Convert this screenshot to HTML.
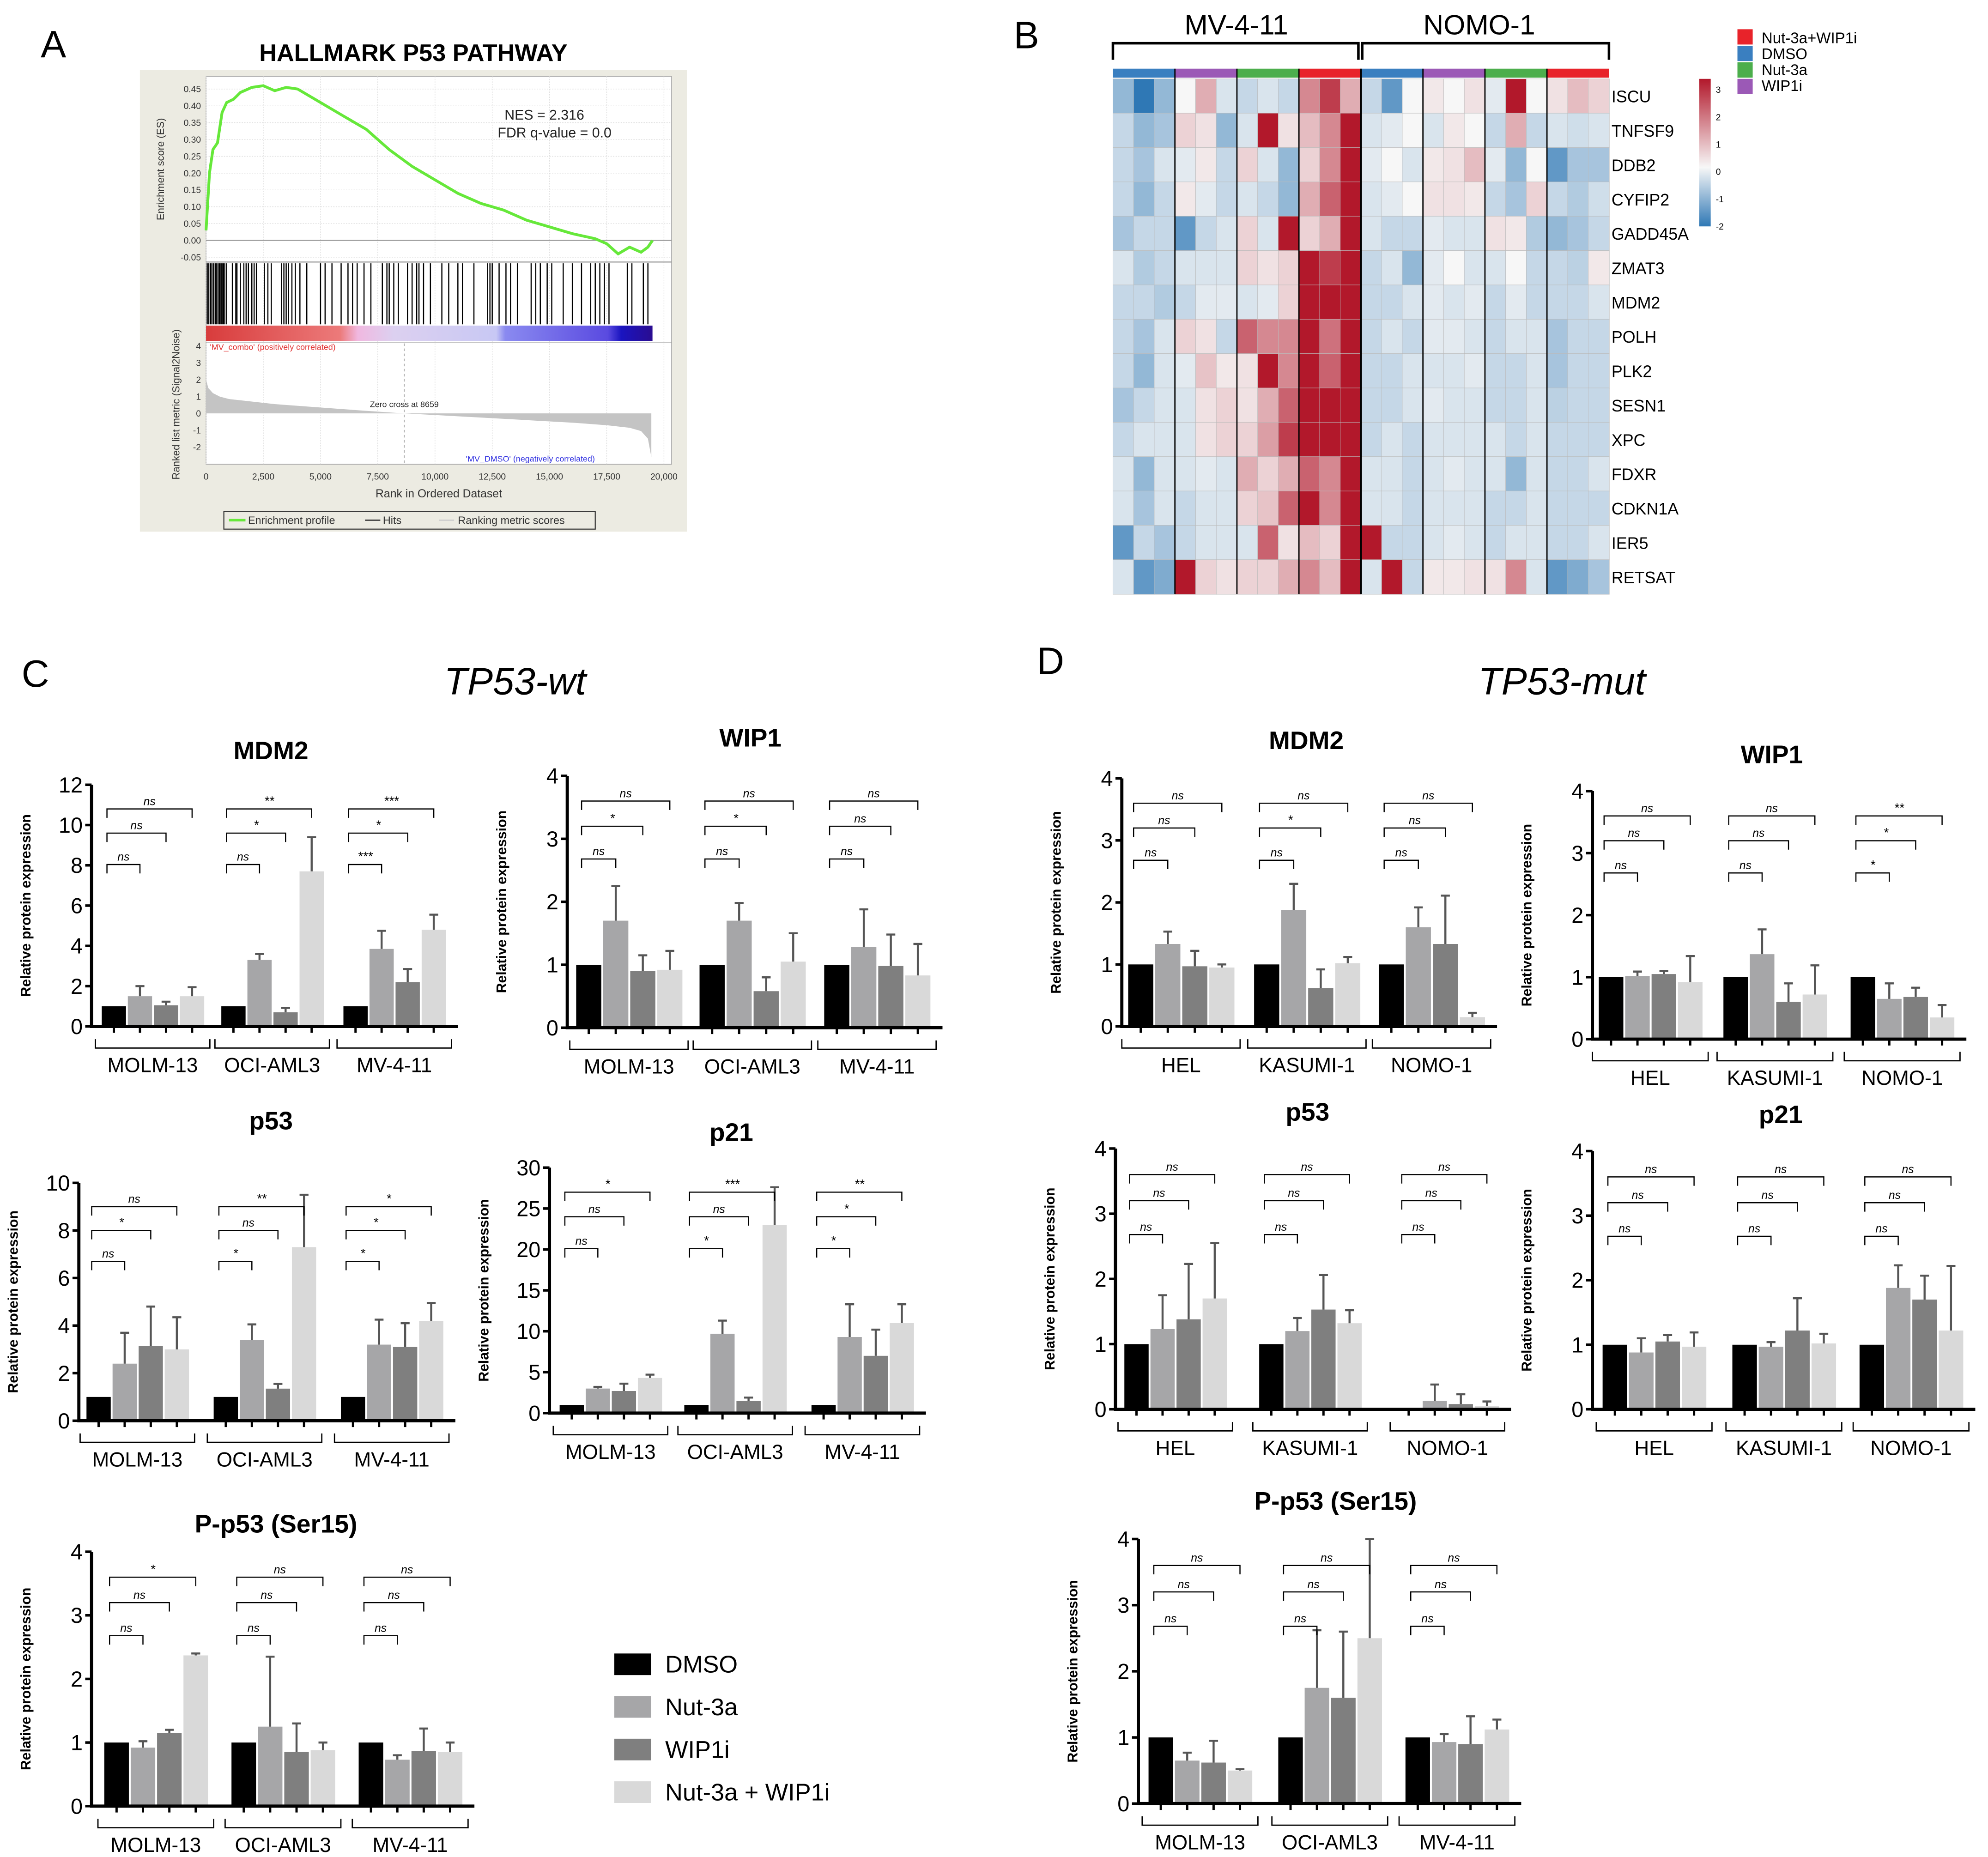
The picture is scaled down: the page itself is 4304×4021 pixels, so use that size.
<!DOCTYPE html>
<html><head><meta charset="utf-8"><style>
html,body{margin:0;padding:0;background:#fff;}
svg{display:block;}
text{font-family:"Liberation Sans",Arial,sans-serif;}
</style></head><body>
<svg id="fig" xmlns="http://www.w3.org/2000/svg" width="4304" height="4021" viewBox="0 0 1563 1460" preserveAspectRatio="none">
<rect width="1563" height="1460" fill="#fff"/>
</svg>
<script>
// ---------- GSEA data ----------
const esRanks=[0,150,300,500,700,900,1200,1500,2000,2500,3000,3500,4000,5000,6000,7000,8000,9000,10000,11000,12000,13000,14000,15000,16000,17000,17500,18000,18500,19000,19300,19500];
const esValues=[0.03,0.2,0.27,0.29,0.38,0.41,0.42,0.44,0.455,0.46,0.445,0.455,0.45,0.41,0.37,0.33,0.27,0.22,0.18,0.14,0.11,0.09,0.06,0.04,0.02,0.005,-0.01,-0.04,-0.02,-0.035,-0.02,0.0];
const hitRanks=[50,120,200,260,330,400,450,520,580,650,700,760,820,900,1150,1300,1350,1500,1650,1750,1850,2000,2100,2200,2550,2700,2850,3300,3400,3500,3600,3750,3900,4100,4400,5000,5200,5500,5900,6200,6400,6600,6900,7200,7700,7900,8000,8200,8400,8800,9000,9200,9300,9500,9800,10300,10600,11000,11200,11700,12300,12400,12500,12800,13100,13300,13600,14200,14400,14600,14900,15100,15600,16000,16400,16800,17000,17200,17400,17600,18400,18600,19100,19300];
const metricRanks=[0,100,300,600,1000,2000,3000,5000,7000,8659,10000,12000,14000,16000,17500,18500,19000,19300,19450];
const metricValues=[2.0,1.5,1.2,1.0,0.85,0.7,0.55,0.35,0.15,0,-0.1,-0.25,-0.4,-0.55,-0.7,-0.85,-1.05,-1.5,-2.6];
const rankTicks=[0,2500,5000,7500,10000,12500,15000,17500,20000];
const rankTickLabels=["0","2,500","5,000","7,500","10,000","12,500","15,000","17,500","20,000"];
const esTicks=[0.45,0.40,0.35,0.30,0.25,0.20,0.15,0.10,0.05,0.00,-0.05];
const metricTicks=[4,3,2,1,0,-1,-2];

// ---------- heatmap data ----------
const genes=["ISCU","TNFSF9","DDB2","CYFIP2","GADD45A","ZMAT3","MDM2","POLH","PLK2","SESN1","XPC","FDXR","CDKN1A","IER5","RETSAT"];
const sampleGroups=["DMSO","WIP1i","Nut-3a","Nut-3a+WIP1i","DMSO","WIP1i","Nut-3a","Nut-3a+WIP1i"];
const heat=[
[-1,-2,-1, 0,1,-.3, -.5,-.3,-.5, 1.5,2.5,1, -.5,-1.5,0, .2,0,.3, -.2,3,0, .3,.8,.5],
[-.5,-1,-.8, .5,.3,-1, -.3,3,.3, .8,1.5,3, -.3,-.2,0, -.3,.2,0, -.5,1,-.5, -.3,-.4,-.3],
[-.5,-.8,-.3, -.2,.2,-.5, .5,-.3,-1, .5,1.5,3, -.2,0,-.3, .2,.3,.8, -.2,-1,0, -1.5,-.8,-.8],
[-.5,-1,-.5, .2,-.2,-.5, -.3,-.5,-1, 1,2,3, -.3,-.2,0, .3,.3,.2, -.5,-.8,.5, -.5,-.7,-.4],
[-.8,-.5,-.5, -1.5,-.5,-.3, .5,-.3,3, .5,1,3, -.3,-.5,-.5, -.2,-.3,-.3, .3,.2,-.7, -1,-.8,-.5],
[-.3,-.7,-.5, -.3,-.3,-.3, .5,.3,.5, 3,2.5,3, -.5,-.3,-1, -.2,0,-.3, -.3,0,-.5, -.5,-.6,.2],
[-.5,-.5,-.7, -.5,-.2,-.2, -.3,-.2,.5, 3,3,3, -.5,-.5,-.3, -.2,-.3,-.2, -.5,-.2,-.5, -.5,-.5,-.3],
[-.5,-.8,-.3, .5,.3,-.5, 2,1.5,1.5, 3,1.8,3, -.5,-.3,-.5, -.2,-.2,-.3, -.5,-.3,-.3, -.8,-.5,-.5],
[-.5,-1,-.3, -.2,.7,.2, .3,3,1.5, 3,2,3, -.5,-.5,-.3, -.3,-.3,-.2, -.5,-.5,-.3, -.8,-.5,-.5],
[-.8,-.5,-.3, -.3,.3,.5, .3,1,2, 3,3,3, -.5,-.5,-.3, -.2,-.3,-.3, -.5,-.5,-.3, -.6,-.5,-.5],
[-.5,-.3,-.3, -.3,.3,.5, .5,1.2,2.5, 3,3,3, -.5,-.3,-.5, -.3,-.3,-.3, -.3,-.5,-.3, -.5,-.5,-.5],
[-.3,-1,-.3, -.3,-.2,-.3, 1,.5,1, 2,1.5,3, -.3,-.3,-.5, -.3,-.2,-.3, -.3,-1,-.3, -.5,-.5,-.3],
[-.3,-.8,-.3, -.5,-.3,-.3, .5,.7,2, 3,1.5,3, -.3,-.3,-.5, -.3,-.3,-.3, -.5,-.5,-.3, -.5,-.5,-.5],
[-1.5,-.5,-.8, -.5,-.3,-.3, -.3,2,.3, .8,.5,3, 3,-.5,-.5, -.3,-.2,-.3, -.5,-.3,-.3, -.5,-.5,-.3],
[-.3,-1.5,-1.2, 3,.5,.3, .5,.5,1, 1.5,.8,3, -.3,3,-.5, .2,.2,.3, .3,1.5,-.3, -1.5,-1.2,-.8]];

// ---------- bar chart data ----------
const treatments=["DMSO","Nut-3a","WIP1i","Nut-3a + WIP1i"];
const wtLines=["MOLM-13","OCI-AML3","MV-4-11"];
const mutLines=["HEL","KASUMI-1","NOMO-1"];
const mdm2WtMeans=[1,1.5,1.05,1.5, 1,3.3,0.7,7.7, 1,3.85,2.2,4.8];
const mdm2WtErrs=[0,0.5,0.18,0.45, 0,0.3,0.22,1.7, 0,0.9,0.65,0.75];
const mdm2WtSig=["ns","ns","ns","ns","*","**","***","*","***"];
const wip1WtMeans=[1,1.7,0.9,0.92, 1,1.7,0.58,1.05, 1,1.28,0.98,0.83];
const wip1WtErrs=[0,0.55,0.25,0.3, 0,0.28,0.22,0.45, 0,0.6,0.5,0.5];
const wip1WtSig=["ns","*","ns","ns","*","ns","ns","ns","ns"];
const p53WtMeans=[1,2.4,3.15,3.0, 1,3.4,1.35,7.3, 1,3.2,3.1,4.2];
const p53WtErrs=[0,1.3,1.65,1.35, 0,0.65,0.2,2.2, 0,1.05,1.0,0.75];
const p53WtSig=["ns","*","ns","*","ns","**","*","*","*"];
const p21WtMeans=[1,3.0,2.7,4.3, 1,9.7,1.5,23, 1,9.3,7.0,11];
const p21WtErrs=[0,0.2,0.9,0.4, 0,1.6,0.4,4.6, 0,4,3.2,2.3];
const p21WtSig=["ns","ns","*","*","ns","***","*","*","**"];
const pp53WtMeans=[1,0.92,1.15,2.37, 1,1.25,0.85,0.88, 1,0.73,0.87,0.85];
const pp53WtErrs=[0,0.1,0.05,0.03, 0,1.1,0.45,0.12, 0,0.07,0.35,0.15];
const pp53WtSig=["ns","ns","*","ns","ns","ns","ns","ns","ns"];
const mdm2MutMeans=[1,1.33,0.97,0.95, 1,1.88,0.62,1.02, 1,1.6,1.33,0.15];
const mdm2MutErrs=[0,0.2,0.25,0.05, 0,0.42,0.3,0.1, 0,0.32,0.78,0.07];
const mdm2MutSig=["ns","ns","ns","ns","*","ns","ns","ns","ns"];
const wip1MutMeans=[1,1.02,1.05,0.92, 1,1.37,0.6,0.72, 1,0.65,0.68,0.35];
const wip1MutErrs=[0,0.07,0.05,0.42, 0,0.4,0.3,0.47, 0,0.25,0.15,0.2];
const wip1MutSig=["ns","ns","ns","ns","ns","ns","*","*","**"];
const p53MutMeans=[1,1.23,1.38,1.7, 1,1.2,1.53,1.32, 0,0.13,0.08,0.05];
const p53MutErrs=[0,0.52,0.85,0.85, 0,0.2,0.53,0.2, 0,0.25,0.15,0.07];
const p53MutSig=["ns","ns","ns","ns","ns","ns","ns","ns","ns"];
const p21MutMeans=[1,0.88,1.05,0.97, 1,0.97,1.22,1.02, 1,1.88,1.7,1.22];
const p21MutErrs=[0,0.22,0.1,0.22, 0,0.07,0.5,0.15, 0,0.35,0.37,1.0];
const p21MutSig=["ns","ns","ns","ns","ns","ns","ns","ns","ns"];
const pp53MutMeans=[1,0.65,0.62,0.5, 1,1.75,1.6,2.5, 1,0.93,0.9,1.12];
const pp53MutErrs=[0,0.12,0.33,0.02, 0,0.87,1.0,1.5, 0,0.12,0.42,0.15];
const pp53MutSig=["ns","ns","ns","ns","ns","ns","ns","ns","ns"];

const NS="http://www.w3.org/2000/svg";
const fig=document.getElementById('fig');
function mk(tag,attrs,parent){const e=document.createElementNS(NS,tag);for(const k in attrs)e.setAttribute(k,attrs[k]);(parent||fig).appendChild(e);return e;}
function txt(s,attrs,parent){const e=mk('text',attrs,parent);e.textContent=s;return e;}

// ---------- panel labels ----------
let t;
t=txt("A",{x:32,y:45,'font-size':30});

t=txt("B",{x:797,y:38,'font-size':30});

t=txt("C",{x:17,y:540,'font-size':30});

t=txt("D",{x:815,y:530,'font-size':30});

t=txt("TP53-wt",{x:405,y:546,'font-size':30,'font-style':'italic','text-anchor':'middle'});

t=txt("TP53-mut",{x:1228,y:546,'font-size':30,'font-style':'italic','text-anchor':'middle'});


// ---------- Panel A: GSEA ----------
const gA=mk('g',{});

t=txt("HALLMARK P53 PATHWAY",{x:325,y:48,'font-size':19,'font-weight':'bold','text-anchor':'middle'},gA);

mk('rect',{x:110,y:55,width:430,height:363,fill:'#ecebe2'},gA);
mk('rect',{x:162,y:60,width:366,height:305,fill:'#fff',stroke:'#aaa','stroke-width':0.6},gA);
const rx=r=>162+r/20000*(522-162);
const esy=v=>189-v*264.4;
const my=v=>325-v*13.25;
// grid
for(const r of rankTicks){mk('line',{x1:rx(r),x2:rx(r),y1:60,y2:365,stroke:'#ddd','stroke-width':0.5,'stroke-dasharray':'1,1'},gA);}
for(const v of esTicks){mk('line',{x1:162,x2:528,y1:esy(v),y2:esy(v),stroke:'#ddd','stroke-width':0.5,'stroke-dasharray':'1,1'},gA);
 txt(v.toFixed(2),{x:158,y:esy(v)+2.5,'font-size':7,'text-anchor':'end',fill:'#333'},gA);}
mk('line',{x1:162,x2:528,y1:esy(0),y2:esy(0),stroke:'#999','stroke-width':0.8},gA);
mk('line',{x1:162,x2:528,y1:206,y2:206,stroke:'#999','stroke-width':0.8},gA);
t=txt("Enrichment score (ES)",{x:0,y:0,'font-size':8,'text-anchor':'middle',fill:'#333',transform:'translate(129,133) rotate(-90)'},gA);

let d='';esRanks.forEach((r,i)=>{d+=(i?'L':'M')+rx(r).toFixed(1)+' '+esy(esValues[i]).toFixed(1);});
t=mk('path',{d:d,fill:'none',stroke:'#66e83a','stroke-width':2.2},gA);

txt("NES = 2.316",{x:428,y:94,'font-size':11,'font-family':'Liberation Serif','text-anchor':'middle',fill:'#222'},gA);
txt("FDR q-value = 0.0",{x:436,y:108,'font-size':11,'font-family':'Liberation Serif','text-anchor':'middle',fill:'#222'},gA);
// hits
for(const h of hitRanks){t=mk('line',{x1:rx(h),x2:rx(h),y1:207,y2:255,stroke:'#000','stroke-width':0.9},gA);
 }
// color bar
const defs=mk('defs',{});
const lg=mk('linearGradient',{id:'rb',x1:0,x2:1,y1:0,y2:0},defs);
[[0,'#d83c3c'],[0.3,'#ec7a7a'],[0.34,'#f0b8e0'],[0.42,'#dcd0f0'],[0.65,'#c8c8f4'],[0.67,'#8a8af0'],[0.9,'#5a4ae0'],[0.93,'#1a14c0'],[1,'#2a0c90']].forEach(s=>mk('stop',{offset:s[0],'stop-color':s[1]},lg));
t=mk('rect',{x:162,y:256,width:rx(19500)-162,height:12,fill:'url(#rb)'},gA);

mk('line',{x1:162,x2:528,y1:269,y2:269,stroke:'#999','stroke-width':0.6},gA);
txt("'MV_combo' (positively correlated)",{x:165,y:275,'font-size':6.5,fill:'#e03030'},gA);
for(const v of metricTicks){txt(String(v),{x:158,y:my(v)+2.5,'font-size':7,'text-anchor':'end',fill:'#333'},gA);}
let md='M'+rx(0)+' '+my(0);metricRanks.forEach((r,i)=>{md+='L'+rx(r).toFixed(1)+' '+my(metricValues[i]).toFixed(1);});md+='L'+rx(19450)+' '+my(0)+'Z';
t=mk('path',{d:md,fill:'#c4c4c4'},gA);

mk('line',{x1:rx(8659),x2:rx(8659),y1:270,y2:365,stroke:'#aaa','stroke-width':0.6,'stroke-dasharray':'2,2'},gA);
txt("Zero cross at 8659",{x:rx(8659),y:320,'font-size':6.5,'text-anchor':'middle',fill:'#222'},gA);
txt("'MV_DMSO' (negatively correlated)",{x:417,y:363,'font-size':6.5,'text-anchor':'middle',fill:'#3030e0'},gA);
t=txt("Ranked list metric (Signal2Noise)",{x:0,y:0,'font-size':8,'text-anchor':'middle',fill:'#333',transform:'translate(141,318) rotate(-90)'},gA);

rankTicks.forEach((r,i)=>{txt(rankTickLabels[i],{x:rx(r),y:377,'font-size':7,'text-anchor':'middle',fill:'#333'},gA);});
t=txt("Rank in Ordered Dataset",{x:345,y:391,'font-size':9,'text-anchor':'middle',fill:'#333'},gA);

const lgA=mk('g',{},gA);

mk('rect',{x:176,y:402,width:292,height:14,fill:'#ecebe2',stroke:'#333','stroke-width':0.8},lgA);
mk('line',{x1:180,x2:193,y1:409,y2:409,stroke:'#66e83a','stroke-width':2},lgA);
txt("Enrichment profile",{x:195,y:412,'font-size':8.5,fill:'#333'},lgA);
mk('line',{x1:287,x2:299,y1:409,y2:409,stroke:'#333','stroke-width':1},lgA);
txt("Hits",{x:301,y:412,'font-size':8.5,fill:'#333'},lgA);
mk('line',{x1:345,x2:357,y1:409,y2:409,stroke:'#ccc','stroke-width':1},lgA);
txt("Ranking metric scores",{x:360,y:412,'font-size':8.5,fill:'#333'},lgA);

// ---------- Panel B: heatmap ----------
const gB=mk('g',{});

const hx0=875,hy0=62,cw=390/24,ch=405/15;
function lerp(a,b,t){return Math.round(a+(b-a)*t);}
function hcol(v){let c1,c2,tt;const w=[247,247,247],b=[47,120,181],r=[178,24,43];
 if(v<0){tt=Math.min(1,-v/2);c2=b;}else{tt=Math.min(1,v/3);c2=r;}
 return 'rgb('+lerp(w[0],c2[0],tt)+','+lerp(w[1],c2[1],tt)+','+lerp(w[2],c2[2],tt)+')';}
const groupColors={"DMSO":"#3a7fc0","WIP1i":"#9b59b6","Nut-3a":"#4cae4c","Nut-3a+WIP1i":"#e8232a"};
sampleGroups.forEach((g,i)=>{t=mk('rect',{x:hx0+i*3*cw,y:54,width:3*cw,height:7,fill:groupColors[g]},gB);
 });
heat.forEach((row,ri)=>{row.forEach((v,ci)=>{t=mk('rect',{x:hx0+ci*cw,y:hy0+ri*ch,width:cw+0.3,height:ch+0.3,fill:hcol(v),stroke:'#bbb','stroke-width':0.3},gB);
 });
 t=txt(genes[ri],{x:1267,y:hy0+ri*ch+ch/2+5,'font-size':13},gB);
 });
for(let i=1;i<8;i++){mk('line',{x1:hx0+i*3*cw,x2:hx0+i*3*cw,y1:54,y2:467,stroke:'#000','stroke-width':i==4?1.6:1},gB);}
mk('path',{d:'M875 47 V34 H1068 V47',fill:'none',stroke:'#000','stroke-width':2},gB);
mk('path',{d:'M1071 47 V34 H1265 V47',fill:'none',stroke:'#000','stroke-width':2},gB);
t=txt("MV-4-11",{x:972,y:27,'font-size':22,'text-anchor':'middle'},gB);

t=txt("NOMO-1",{x:1163,y:27,'font-size':22,'text-anchor':'middle'},gB);

const legB=mk('g',{},gB);

[["Nut-3a+WIP1i","#e8232a"],["DMSO","#3a7fc0"],["Nut-3a","#4cae4c"],["WIP1i","#9b59b6"]].forEach((e,i)=>{
 mk('rect',{x:1366,y:23+i*13,width:12,height:12,fill:e[1]},legB);
 txt(e[0],{x:1385,y:34+i*12.5,'font-size':12},legB);});
const sg=mk('linearGradient',{id:'sc',x1:0,x2:0,y1:0,y2:1},defs);
[[0,'#b2182b'],[0.6,'#f7f7f7'],[1,'#2f78b5']].forEach(s=>mk('stop',{offset:s[0],'stop-color':s[1]},sg));
t=mk('rect',{x:1336,y:62,width:9,height:116,fill:'url(#sc)'},legB);

[3,2,1,0,-1,-2].forEach((v,i)=>txt(String(v),{x:1349,y:73+i*21.5,'font-size':7},legB));

// ---------- bar charts ----------
const barColors=["#000000","#a6a6a8","#7f7f7f","#d9d9d9"];
function barChart(c){
 const g=mk('g',{});
 
 
 const h=c.y0-c.top, ys=v=>c.y0-v/c.ymax*h;
 let tt=txt(c.title,{x:c.tx,y:c.ty,'font-size':20,'font-weight':'bold','text-anchor':'middle'},g);
 
 tt=txt("Relative protein expression",{x:0,y:0,'font-size':11,'font-weight':'bold','text-anchor':'middle',transform:'translate('+(c.ax-48)+','+((c.y0+c.top)/2)+') rotate(-90)'},g);
 
 const bs=c.gw/4, bw=bs*0.93;
 c.groups.forEach((gx,gi)=>{
  for(let i=0;i<4;i++){
   const k=gi*4+i, v=c.means[k], e=c.errs[k], x=gx+i*bs, cx=x+bw/2;
   const b=mk('rect',{x:x,y:ys(v),width:bw,height:c.y0-ys(v),fill:barColors[i]},g);
   
   
   if(e>0){const eb=mk('path',{d:'M'+cx+' '+ys(v)+' V'+ys(v+e)+' M'+(cx-3.5)+' '+ys(v+e)+' H'+(cx+3.5),stroke:'#555','stroke-width':1.6,fill:'none'},g);
    }
   mk('line',{x1:cx,x2:cx,y1:c.y0,y2:c.y0+5,stroke:'#000','stroke-width':1.8},g);
  }
  // significance brackets
  const x0=gx+bs*0.2;
  [1,2,3].forEach((j,bi)=>{
   const lvl=c.top+h*[0.33,0.2,0.1][bi], x1=gx+j*bs+bw*0.5;
   const br=mk('path',{d:'M'+x0+' '+(lvl+7)+' V'+lvl+' H'+x1+' V'+(lvl+7),fill:'none',stroke:'#000','stroke-width':0.9},g);
   
   const s=c.sig[gi*3+bi];
   txt(s,{x:(x0+x1)/2,y:lvl-3,'font-size':s=='ns'?9:10,'font-style':'italic','text-anchor':'middle'},g);
  });
  const gl=gx-5, gr=gx+c.gw+3;
  mk('path',{d:'M'+gl+' '+(c.y0+10)+' V'+(c.y0+17)+' H'+gr+' V'+(c.y0+10),fill:'none',stroke:'#000','stroke-width':1},g);
  const lab=txt(c.cats[gi],{x:(gl+gr)/2,y:c.y0+36,'font-size':16,'text-anchor':'middle'},g);
  
 });
 // axes
 const xr=c.groups[2]+c.gw+8;
 mk('path',{d:'M'+c.ax+' '+c.top+' V'+c.y0+' H'+xr,fill:'none',stroke:'#000','stroke-width':2.5},g);
 for(let v=0;v<=c.ymax+1e-9;v+=c.step){
  mk('line',{x1:c.ax-5,x2:c.ax,y1:ys(v),y2:ys(v),stroke:'#000','stroke-width':2},g);
  txt(String(v),{x:c.ax-7,y:ys(v)+6,'font-size':17,'text-anchor':'end'},g);
 }
}
barChart({name:'mdm2-wt-chart',title:'MDM2',tx:213,ty:597,ax:72,y0:807,top:617,ymax:12,step:2,groups:[80,174,270],gw:82,means:mdm2WtMeans,errs:mdm2WtErrs,sig:mdm2WtSig,cats:wtLines});
barChart({name:'wip1-wt-chart',title:'WIP1',tx:590,ty:587,ax:446,y0:808,top:610,ymax:4,step:1,groups:[453,550,648],gw:85,means:wip1WtMeans,errs:wip1WtErrs,sig:wip1WtSig,cats:wtLines});
barChart({name:'p53-wt-chart',title:'p53',tx:213,ty:888,ax:62,y0:1117,top:930,ymax:10,step:2,groups:[68,168,268],gw:82,means:p53WtMeans,errs:p53WtErrs,sig:p53WtSig,cats:wtLines});
barChart({name:'p21-wt-chart',title:'p21',tx:575,ty:897,ax:432,y0:1111,top:918,ymax:30,step:5,groups:[440,538,638],gw:82,means:p21WtMeans,errs:p21WtErrs,sig:p21WtSig,cats:wtLines});
barChart({name:'pp53-wt-chart',title:'P-p53 (Ser15)',tx:217,ty:1205,ax:72,y0:1420,top:1220,ymax:4,step:1,groups:[82,182,282],gw:83,means:pp53WtMeans,errs:pp53WtErrs,sig:pp53WtSig,cats:wtLines});
barChart({name:'mdm2-mut-chart',title:'MDM2',tx:1027,ty:589,ax:882,y0:807,top:612,ymax:4,step:1,groups:[887,986,1084],gw:85,means:mdm2MutMeans,errs:mdm2MutErrs,sig:mdm2MutSig,cats:mutLines});
barChart({name:'wip1-mut-chart',title:'WIP1',tx:1393,ty:600,ax:1252,y0:817,top:622,ymax:4,step:1,groups:[1257,1355,1455],gw:83,means:wip1MutMeans,errs:wip1MutErrs,sig:wip1MutSig,cats:mutLines});
barChart({name:'p53-mut-chart',title:'p53',tx:1028,ty:881,ax:877,y0:1108,top:903,ymax:4,step:1,groups:[884,990,1098],gw:82,means:p53MutMeans,errs:p53MutErrs,sig:p53MutSig,cats:mutLines});
barChart({name:'p21-mut-chart',title:'p21',tx:1400,ty:883,ax:1252,y0:1108,top:905,ymax:4,step:1,groups:[1260,1362,1462],gw:83,means:p21MutMeans,errs:p21MutErrs,sig:p21MutSig,cats:mutLines});
barChart({name:'pp53-mut-chart',title:'P-p53 (Ser15)',tx:1050,ty:1187,ax:895,y0:1418,top:1210,ymax:4,step:1,groups:[903,1005,1105],gw:83,means:pp53MutMeans,errs:pp53MutErrs,sig:pp53MutSig,cats:wtLines});

// legend C
const legC=mk('g',{});

treatments.forEach((tr,i)=>{
 const y=1300+i*33.5;
 const r=mk('rect',{x:483,y:y,width:29,height:17,fill:barColors[i]},legC);
 
 const l=txt(tr,{x:523,y:y+15,'font-size':19},legC);
 
});
</script>
</body></html>
